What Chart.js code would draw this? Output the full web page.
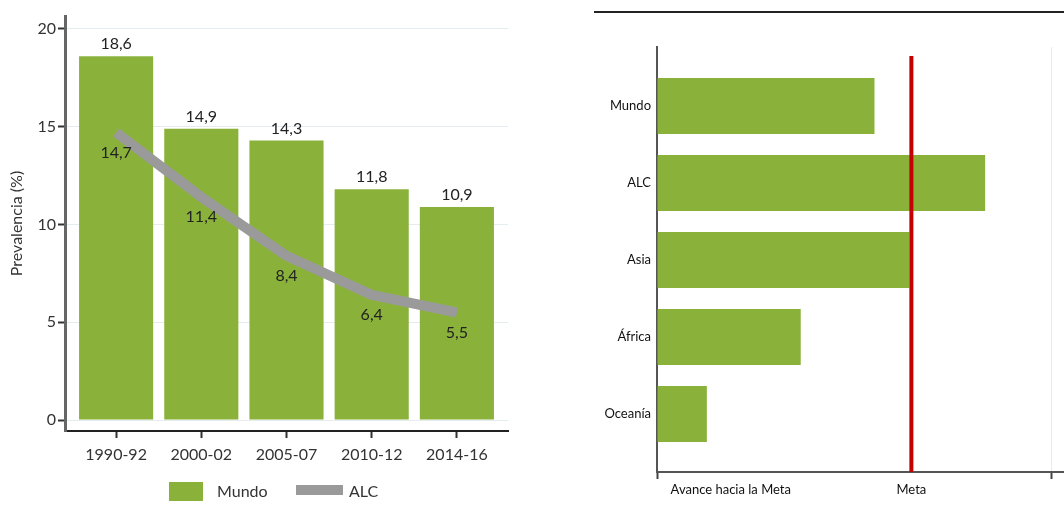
<!DOCTYPE html>
<html><head><meta charset="utf-8">
<script src="https://cdn.jsdelivr.net/npm/chart.js@4.4.1/dist/chart.umd.min.js"></script>
<style>
html,body{margin:0;padding:0;background:#fff;}
#wrap{position:relative;width:1064px;height:515px;overflow:hidden;background:#fff;}
#c1{position:absolute;left:0;top:0;}
#c2{position:absolute;left:530px;top:0;}
#rule{position:absolute;left:594px;top:11px;width:470px;height:2px;background:#222;}
</style></head><body>
<div id="wrap">
<canvas id="c1" width="530" height="515"></canvas>
<canvas id="c2" width="534" height="515"></canvas>
<div id="rule"></div>
</div>
<script>
// ---- Data ----
const periods = ['1990-92','2000-02','2005-07','2010-12','2014-16'];
const mundo = [18.6, 14.9, 14.3, 11.8, 10.9];
const alc = [14.7, 11.4, 8.4, 6.4, 5.5];
const yTicksLeft = [0, 5, 10, 15, 20];

const regions = ['Mundo','ALC','Asia','África','Oceanía'];
const avance = [85.5, 129, 99.2, 56.5, 19.6];
const META = 100;
const xTicksRight = [0, 29, 100, 155];
const xTickLabelsRight = ['', 'Avance hacia la Meta', 'Meta', ''];

// ---- Styles ----
const GREEN = '#8ab23b';
const GRAY = '#9a9a9a';
const FONT = 'Lato';
const fmt = v => v.toFixed(1).replace('.', ',');

const valueLabels = {
  id: 'valueLabels',
  afterDatasetsDraw(chart) {
    const ctx = chart.ctx;
    ctx.save();
    ctx.font = '16px ' + FONT;
    ctx.fillStyle = '#222';
    ctx.textAlign = 'center';
    ctx.textBaseline = 'middle';
    chart.data.datasets.forEach((ds, di) => {
      const meta = chart.getDatasetMeta(di);
      meta.data.forEach((el, i) => {
        ctx.fillText(fmt(ds.data[i].y), el.x, el.y + ds.labelOffset);
      });
    });
    ctx.restore();
  }
};

const customLegend = {
  id: 'customLegend',
  afterDraw(chart) {
    const ctx = chart.ctx;
    const line = chart.data.datasets[0], bar = chart.data.datasets[1];
    ctx.save();
    ctx.font = '16px ' + FONT;
    ctx.textBaseline = 'middle';
    ctx.textAlign = 'left';
    ctx.fillStyle = bar.backgroundColor;
    ctx.fillRect(169, 482, 34, 19);
    ctx.fillStyle = '#333';
    ctx.fillText(bar.label, 217, 492);
    ctx.fillStyle = line.borderColor;
    ctx.fillRect(296, 485, 47, 10);
    ctx.fillStyle = '#333';
    ctx.fillText(line.label, 349, 492);
    ctx.restore();
  }
};

const metaLine = {
  id: 'metaLine',
  afterDatasetsDraw(chart) {
    const {ctx, chartArea, scales} = chart;
    const x = scales.x.getPixelForValue(META);
    ctx.save();
    ctx.strokeStyle = '#c40000';
    ctx.lineWidth = 4;
    ctx.beginPath();
    ctx.moveTo(x, chartArea.top + 9);
    ctx.lineTo(x, chartArea.bottom);
    ctx.stroke();
    ctx.restore();
  }
};

new Chart(document.getElementById('c1'), {
  data: {
    datasets: [
      { type: 'line', label: 'ALC', data: alc.map((v, i) => ({x: i, y: v})),
        borderColor: GRAY, backgroundColor: GRAY, borderWidth: 10, pointRadius: 0,
        borderCapStyle: 'butt', borderJoinStyle: 'round', tension: 0, order: 0, labelOffset: 20 },
      { type: 'bar', label: 'Mundo', data: mundo.map((v, i) => ({x: i, y: v})),
        backgroundColor: GREEN, barPercentage: 0.87, categoryPercentage: 1, order: 1, labelOffset: -12 }
    ]
  },
  options: {
    responsive: false, animation: false, devicePixelRatio: 1,
    layout: { padding: { left: 0, right: 22, top: 16, bottom: 0 } },
    plugins: { legend: { display: false }, tooltip: { enabled: false } },
    scales: {
      x: {
        type: 'linear', min: -0.6, max: 4.6, offset: false,
        afterBuildTicks: s => { s.ticks = periods.map((p, i) => ({value: i})); },
        afterFit: s => { s.height = 84; },
        ticks: { callback: v => periods[v], font: {family: FONT, size: 16}, color: '#333', padding: 7, maxRotation: 0, autoSkip: false },
        grid: { offset: false, drawOnChartArea: false, tickLength: 7, tickColor: '#333', tickWidth: 2 },
        border: { color: '#222', width: 2 }
      },
      y: {
        type: 'linear', min: -0.56, max: 20.66,
        afterBuildTicks: s => { s.ticks = yTicksLeft.map(v => ({value: v})); },
        afterFit: s => { s.width = 65; },
        ticks: { font: {family: FONT, size: 16}, color: '#333', padding: 2 },
        grid: { color: '#e4ecef', lineWidth: 1, tickLength: 7, tickColor: '#333', tickWidth: 2 },
        border: { color: '#666', width: 3 },
        title: { display: true, text: 'Prevalencia (%)', font: {family: FONT, size: 16}, color: '#333', padding: {top: 7, bottom: 0} }
      }
    }
  },
  plugins: [valueLabels, customLegend]
});

new Chart(document.getElementById('c2'), {
  type: 'bar',
  data: {
    datasets: [
      { label: 'Avance', data: avance.map((v, i) => ({x: v, y: i})),
        backgroundColor: GREEN, barPercentage: 0.727, categoryPercentage: 1 }
    ]
  },
  options: {
    indexAxis: 'y',
    responsive: false, animation: false, devicePixelRatio: 1,
    layout: { padding: { left: 0, right: 0, top: 47, bottom: 0 } },
    plugins: { legend: { display: false }, tooltip: { enabled: false } },
    scales: {
      y: {
        type: 'linear', reverse: true, min: -0.766, max: 4.753, z: 1, offset: false,
        afterBuildTicks: s => { s.ticks = regions.map((r, i) => ({value: i})); },
        afterFit: s => { s.width = 127; },
        ticks: { callback: v => regions[v], font: {family: FONT, size: 13}, color: '#111', padding: 6, autoSkip: false },
        grid: { offset: false, display: false, drawTicks: false },
        border: { color: '#555', width: 2 }
      },
      x: {
        type: 'linear', min: 0, max: 160,
        afterBuildTicks: s => { s.ticks = xTicksRight.map(v => ({value: v})); },
        afterFit: s => { s.height = 43; },
        ticks: { callback: (v, i) => xTickLabelsRight[i], font: {family: FONT, size: 13}, color: '#111', padding: 3, maxRotation: 0, autoSkip: false },
        grid: {
          color: c => (c.tick && c.tick.value === 155) ? '#e6edf0' : 'rgba(0,0,0,0)',
          tickLength: 7,
          tickColor: c => (c.tick && (c.tick.value === 0 || c.tick.value === 155)) ? '#444' : 'rgba(0,0,0,0)',
          tickWidth: 2
        },
        border: { color: '#555', width: 2 }
      }
    }
  },
  plugins: [metaLine]
});
</script>
</body></html>
